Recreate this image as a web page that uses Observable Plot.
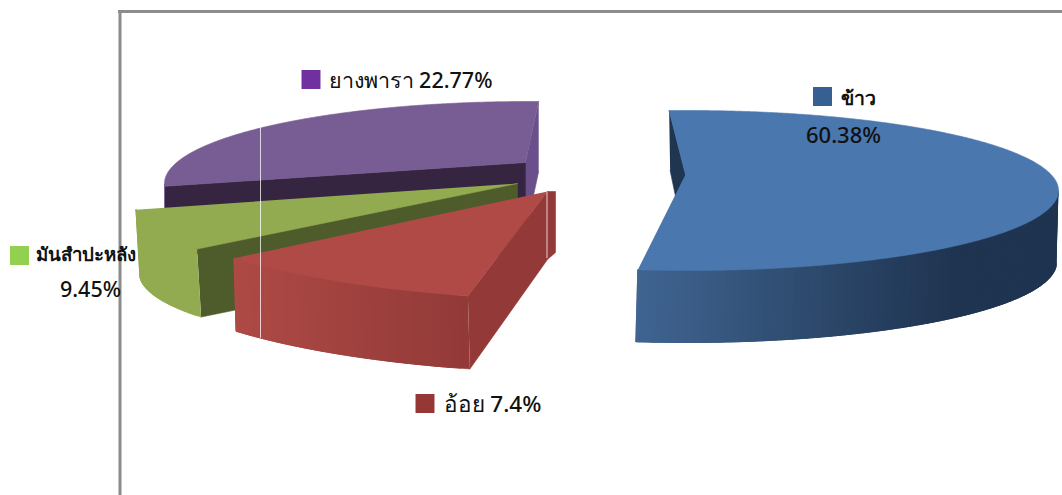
<!DOCTYPE html>
<html>
<head>
<meta charset="utf-8">
<script src="https://cdn.jsdelivr.net/npm/d3@7"></script>
<script src="https://cdn.jsdelivr.net/npm/@observablehq/plot@0.6"></script>
<style>html,body{margin:0;padding:0;background:#fff}svg{display:block}</style>
</head>
<body>
<div id="chart"></div>
<script>
// Data
const categories = ["ข้าว", "อ้อย", "มันสำปะหลัง", "ยางพารา"];
const shares = [60.38, 7.4, 9.45, 22.77];
const labelLines = [["ข้าว", "60.38%"], ["อ้อย 7.4%"], ["มันสำปะหลัง", "9.45%"], ["ยางพารา 22.77%"]];
const swatchColors = ["#376092", "#953735", "#92d050", "#7030a0"];

// Pose of each exploded slice in the distorted 3D view
const poses = [
  {apex:[685,174], c:[688,190], r:[370,80], nudge:[0,-26.5], depth:72, apexDepth:70, shift:-2, cutDepth:60, cutShift:1,
   top:"#4a77ae", wall:["#406592","#1f3450"], span:.76, startWall:"#1f3550", endWall:null},
  {apex:[547,191], c:[600,190], r:[465,110], nudge:[-17.8,-9], depth:73, apexDepth:68, shift:2, lip:8,
   top:"#b04a46", wall:["#ae4a46","#933a38"], span:1, startWall:"#933a38", endWall:null},
  {apex:[517,183], c:[517,205], r:[382,80], nudge:[-4,-8], depth:68, apexDepth:69, shift:4,
   top:"#93ab50", wall:["#93ab50","#93ab50"], span:1, startWall:"#4d5c2a", endWall:null},
  {apex:[525,162], c:[528,183], r:[364,82], nudge:[-7,4.6], depth:70, apexDepth:70, shift:0,
   top:"#785c94", wall:["#785c94","#785c94"], span:1, startWall:"#352540", endWall:"#6a4f8a"}
];
const paintOrder = [3, 2, 1, 0];
const labelPlaces = [
  {box:[822,96], lines:[[840,98,"start",19.5,600],[843,135,"middle",22,500]]},
  {box:[424.5,403], lines:[[443,404,"start",22.5,500]]},
  {box:[19,255], lines:[[35,255,"start",18.6,600],[90,290,"middle",21.5,500]]},
  {box:[310.5,79], lines:[[328,81,"start",21.5,500]]}
];

const deg = Math.PI / 180;
const arcs = d3.pie().sort(null).startAngle(-3 * deg).endAngle(357 * deg)(shares);

const rows = [];
let id = 0;
function poly(points, color) {
  id++;
  for (const [x, y] of points) rows.push({x, y, id, color});
}
paintOrder.forEach(i => {
  const p = poses[i];
  const from = arcs[i].startAngle / deg + p.nudge[0];
  const to = arcs[i].endAngle / deg + p.nudge[1];
  const at = (a, down = 0, dx = 0) => [
    p.c[0] + dx + p.r[0] * Math.sin(a * deg),
    p.c[1] + down - p.r[1] * Math.cos(a * deg)
  ];
  const edge = d3.range(from, to, 0.4).concat(to);
  // radial cut walls
  const radial = (a, color) => {
    const pts = [at(a), p.apex];
    if (p.lip) pts.push([p.apex[0] + p.lip, p.apex[1]], [p.apex[0] + p.lip, p.apex[1] + p.apexDepth - 7]);
    pts.push([p.apex[0], p.apex[1] + p.apexDepth],
             at(a, p.cutDepth ?? p.depth, p.cutShift ?? p.shift));
    poly(pts, color);
  };
  if (p.endWall) radial(to, p.endWall);
  if (p.startWall) radial(from, p.startWall);
  // outer wall: only the front-facing part; strips overlap the next ones so no seams show
  const front = edge.filter(a => a >= 90 && a <= 270);
  if (front.length > 1) {
    const xs = front.map(a => at(a)[0]);
    const x0 = d3.min(xs), x1 = d3.max(xs);
    const shade = d3.interpolateRgb(p.wall[0], p.wall[1]);
    const stepEvery = 3;
    for (let k = 0; k < front.length - 1; k += stepEvery) {
      const part = front.slice(k, k + stepEvery * 3 + 1);
      const t = Math.min(1, (at(front[k])[0] - x0) / ((x1 - x0) * p.span));
      poly([...part.map(a => at(a)), ...part.slice().reverse().map(a => at(a, p.depth, p.shift))], shade(t));
    }
  }
  // top face
  poly([p.apex, ...edge.map(a => at(a))], p.top);
});

const swatches = labelPlaces.map((l, i) => ({x: l.box[0], y: l.box[1], color: swatchColors[i]}));
const texts = labelPlaces.flatMap((l, i) =>
  l.lines.map((t, j) => ({x: t[0], y: t[1], anchor: t[2], size: t[3], weight: t[4], text: labelLines[i][j]})));

const textMark = (anchor, weight) => Plot.text(texts.filter(d => d.anchor === anchor && d.weight === weight), {
  x: "x", y: "y", text: "text", textAnchor: anchor, lineAnchor: "middle", fontSize: "size",
  fontFamily: "'Noto Sans','Open Sans',sans-serif", fontWeight: weight, fill: "#111"
});

const chart = Plot.plot({
  width: 1062, height: 495, margin: 0, style: {background: "#fff", overflow: "hidden"},
  x: {domain: [0, 1062], range: [0, 1062], axis: null},
  y: {domain: [0, 495], range: [0, 495], axis: null},
  color: {type: "identity"},
  marks: [
    Plot.ruleY([11], {x1: 118, x2: 1062, stroke: "#8c8c8c", strokeWidth: 3}),
    Plot.ruleX([119.5], {y1: 10, y2: 495, stroke: "#8c8c8c", strokeWidth: 3}),
    Plot.line(rows, {x: "x", y: "y", z: "id", fill: "color", stroke: "color", strokeWidth: 0.6}),
    Plot.ruleX([260], {y1: 127, y2: 338, stroke: "#fff", strokeOpacity: .75, strokeWidth: 1}),
    Plot.ruleX([546.5], {y1: 192, y2: 258, stroke: "#fff", strokeOpacity: .75, strokeWidth: 1}),
    Plot.dot(swatches, {x: "x", y: "y", fill: "color", symbol: "square", r: 10.7, stroke: null}),
    textMark("start", 500),
    textMark("start", 600),
    textMark("middle", 500)
  ]
});
document.getElementById("chart").appendChild(chart);
</script>
</body>
</html>
